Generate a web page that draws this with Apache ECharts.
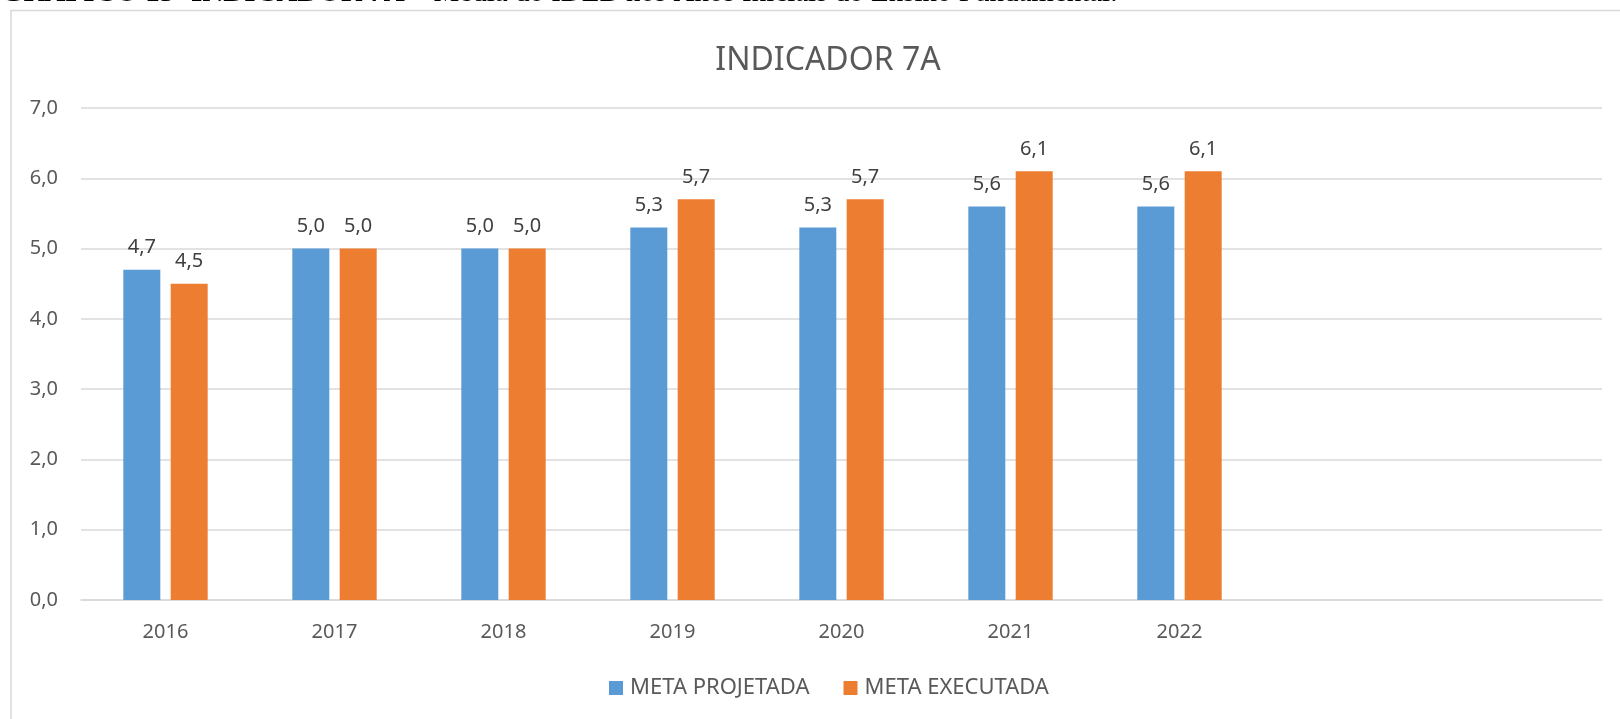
<!DOCTYPE html>
<html>
<head>
<meta charset="utf-8">
<title>INDICADOR 7A</title>
<script src="https://cdn.jsdelivr.net/npm/echarts@6/dist/echarts.min.js"></script>
<style>
  html,body{margin:0;padding:0;background:#fff;}
  #main{width:1620px;height:719px;}
</style>
</head>
<body>
<div id="main"></div>
<script>
// anos (as duas últimas categorias ficam vazias, como no gráfico original)
var anos = ['2016','2017','2018','2019','2020','2021','2022','',''];
var metaProjetada = [4.7, 5.0, 5.0, 5.3, 5.3, 5.6, 5.6];
var metaExecutada = [4.5, 5.0, 5.0, 5.7, 5.7, 6.1, 6.1];
var nomes = ['META PROJETADA','META EXECUTADA'];
var legendaDoc = ['GRÁFICO 15- INDICADOR 7A', ' – Média do IDEB nos Anos Iniciais do Ensino Fundamental.'];

var fonte = '"Noto Sans", "Open Sans", sans-serif';
var fmt = function(v){ return Number(v).toFixed(1).replace('.', ','); };

// largura da parte em negrito, para encaixar o resto logo depois
var ctx = document.createElement('canvas').getContext('2d');
ctx.font = 'bold 29px "Liberation Serif", serif';
var larguraNegrito = ctx.measureText(legendaDoc[0]).width;

var myChart = echarts.init(document.getElementById('main'));
var option = {
  backgroundColor: '#fff',
  animation: false,
  textStyle: { fontFamily: fonte },
  graphic: [
    {
      type: 'rect',
      shape: { x: 11, y: 10.5, width: 1700, height: 800 },
      style: { fill: 'none', stroke: '#d9d9d9', lineWidth: 1.5 },
      silent: true
    },
    {
      // legenda do documento, cortada no topo da imagem
      type: 'text',
      x: 1, y: -21,
      style: { text: legendaDoc[0], font: 'bold 29px "Liberation Serif", serif', fill: '#000', verticalAlign: 'top', align: 'left' },
      silent: true
    },
    {
      type: 'text',
      x: 1 + larguraNegrito, y: -21,
      style: { text: legendaDoc[1], font: '29px "Liberation Serif", serif', fill: '#000', verticalAlign: 'top', align: 'left' },
      silent: true
    }
  ],
  title: {
    text: 'INDICADOR 7A',
    left: 823, top: 40,
    textAlign: 'center',
    textStyle: { fontFamily: fonte, fontSize: 32, fontWeight: 'normal', color: '#595959' }
  },
  legend: {
    data: nomes,
    top: 672,
    left: 604,
    itemWidth: 14,
    itemHeight: 14,
    itemGap: 34,
    icon: 'rect',
    textStyle: { fontFamily: fonte, fontSize: 22, color: '#595959', padding: [0,0,0,2] }
  },
  grid: { left: 81, right: 18, top: 108, bottom: 119, containLabel: false },
  xAxis: {
    type: 'category',
    data: anos,
    axisLine: { lineStyle: { color: '#d9d9d9', width: 1.5 } },
    axisTick: { show: false },
    axisLabel: { color: '#595959', fontSize: 20, margin: 22, fontFamily: fonte }
  },
  yAxis: {
    type: 'value',
    min: 0, max: 7, interval: 1,
    axisLine: { show: false },
    axisTick: { show: false },
    splitLine: { lineStyle: { color: '#d9d9d9', width: 1.5 } },
    axisLabel: { color: '#595959', fontSize: 20, margin: 23, fontFamily: fonte, formatter: fmt }
  },
  series: [
    {
      name: nomes[0],
      type: 'bar',
      data: metaProjetada,
      barWidth: 37,
      barGap: '28%',
      itemStyle: { color: '#5b9bd5' },
      label: { show: true, position: 'top', distance: 12, fontSize: 20, color: '#404040', fontFamily: fonte,
               formatter: function(p){ return fmt(p.value); } }
    },
    {
      name: nomes[1],
      type: 'bar',
      data: metaExecutada,
      barWidth: 37,
      barGap: '28%',
      itemStyle: { color: '#ed7d31' },
      label: { show: true, position: 'top', distance: 12, fontSize: 20, color: '#404040', fontFamily: fonte,
               formatter: function(p){ return fmt(p.value); } }
    }
  ]
};
myChart.setOption(option);
</script>
</body>
</html>
